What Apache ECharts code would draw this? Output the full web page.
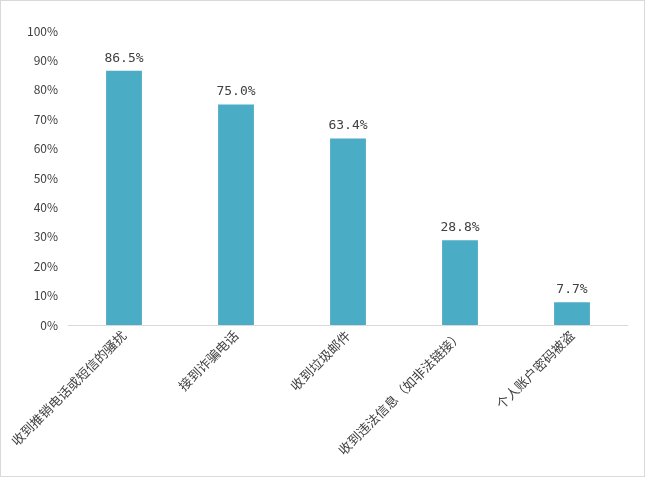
<!DOCTYPE html>
<html><head><meta charset="utf-8">
<script src="https://cdn.jsdelivr.net/npm/echarts@6/dist/echarts.min.js"></script>
<style>html,body{margin:0;padding:0;background:#fff}#c{width:645px;height:477px;box-sizing:border-box;border:1px solid #d9d9d9}</style>
</head><body><div id="c"></div>
<script>
const categories = ['收到推销电话或短信的骚扰','接到诈骗电话','收到垃圾邮件','收到违法信息（如非法链接）','个人账户密码被盗'];
const values = [86.5, 75.0, 63.4, 28.8, 7.7];
const chart = echarts.init(document.getElementById('c'));
chart.setOption({
  animation:false,
  grid:{left:67,right:16,top:30,bottom:151},
  xAxis:{type:'category',data:categories,
    axisLine:{lineStyle:{color:'#d9d9d9'}},axisTick:{show:false},
    axisLabel:{rotate:45,interval:0,color:'#404040',fontSize:13,fontFamily:'Noto Sans CJK SC',margin:8}},
  yAxis:{type:'value',min:0,max:100,interval:10,
    axisLabel:{formatter:'{value}%',color:'#404040',fontSize:12,fontFamily:'Noto Sans CJK SC',margin:10},
    axisLine:{show:false},axisTick:{show:false},splitLine:{show:false}},
  series:[{type:'bar',data:values,barWidth:'32%',itemStyle:{color:'#4BACC6'},
    label:{show:true,position:'top',formatter:p=>p.value.toFixed(1)+'%',color:'#404040',fontSize:13,fontFamily:'DejaVu Sans Mono',distance:6}}]
});
</script></body></html>
